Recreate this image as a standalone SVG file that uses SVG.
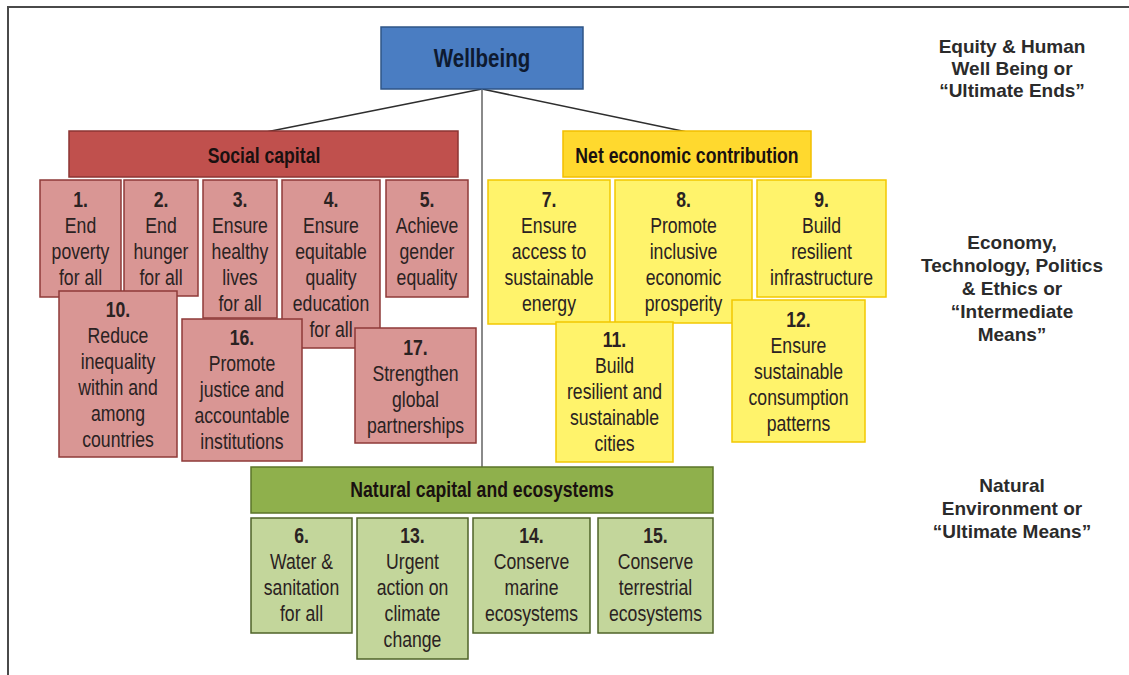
<svg xmlns="http://www.w3.org/2000/svg" width="1129" height="675" viewBox="0 0 1129 675">
<style>
.frame{stroke:#4a4a4a;stroke-width:2;fill:none}
.conn{stroke:#2e2e2e;stroke-width:1.6;fill:none}
.vline{stroke:#8a8a8a;stroke-width:2;fill:none}
.well{fill:#4a7dc2;stroke:#2f5587;stroke-width:1.5}
.soc{fill:#c0504d;stroke:#8c3533;stroke-width:1.5}
.pink{fill:#d99694;stroke:#8e3a38;stroke-width:1.5}
.econ{fill:#ffd92e;stroke:#f2bf00;stroke-width:1.5}
.yel{fill:#fff36b;stroke:#f2c800;stroke-width:1.5}
.nat{fill:#8fb04c;stroke:#5b7429;stroke-width:1.5}
.grn{fill:#c3d69b;stroke:#4f6328;stroke-width:1.5}
.hd{font-family:"Liberation Sans",Arial,sans-serif;font-weight:bold;font-size:21.5px;fill:#1a1010;text-anchor:middle}
.wb{font-family:"Liberation Sans",Arial,sans-serif;font-weight:bold;font-size:25px;fill:#0e1a30;text-anchor:middle}
.tx{font-family:"Liberation Sans",Arial,sans-serif;font-size:21.5px;fill:#2a2222;text-anchor:middle}
.tx .n{font-weight:bold}
.side{font-family:"Liberation Sans",Arial,sans-serif;font-weight:bold;font-size:19px;fill:#2b2b2b;text-anchor:middle}
</style>
<rect x="0" y="0" width="1129" height="675" fill="#ffffff"/>
<path class="frame" d="M8 675 V7 H1129"/>
<g id="connectors">
<line class="conn" x1="482" y1="89" x2="266" y2="132"/>
<line class="conn" x1="482" y1="89" x2="687" y2="132"/>
<line class="vline" x1="482" y1="89" x2="482" y2="467"/>
</g>
<g id="wellbeing">
<rect class="well" x="381" y="27" width="202" height="62"/>
<text class="wb" transform="matrix(0.82 0 0 1 482 0)" x="0" y="67">Wellbeing</text>
</g>
<g id="social-capital">
<rect class="soc" x="69" y="131" width="389" height="46"/>
<text class="hd" transform="matrix(0.82 0 0 1 264 0)" x="0" y="163">Social capital</text>
</g>
<g id="net-economic">
<rect class="econ" x="563" y="131" width="248" height="46"/>
<text class="hd" transform="matrix(0.82 0 0 1 687 0)" x="0" y="163">Net economic contribution</text>
</g>
<g id="natural-capital">
<rect class="nat" x="251" y="467" width="462" height="46"/>
<text class="hd" transform="matrix(0.82 0 0 1 482 0)" x="0" y="497">Natural capital and ecosystems</text>
</g>
<g id="sdg1">
<rect class="pink" x="40" y="180" width="81" height="117"/>
<text class="tx" transform="matrix(0.82 0 0 1 80.5 0)"><tspan class="n" x="0" y="207">1.</tspan><tspan x="0" y="233">End</tspan><tspan x="0" y="259">poverty</tspan><tspan x="0" y="285">for all</tspan></text>
</g>
<g id="sdg2">
<rect class="pink" x="124" y="180" width="74" height="116"/>
<text class="tx" transform="matrix(0.82 0 0 1 161 0)"><tspan class="n" x="0" y="207">2.</tspan><tspan x="0" y="233">End</tspan><tspan x="0" y="259">hunger</tspan><tspan x="0" y="285">for all</tspan></text>
</g>
<g id="sdg3">
<rect class="pink" x="203" y="180" width="74" height="138"/>
<text class="tx" transform="matrix(0.82 0 0 1 240 0)"><tspan class="n" x="0" y="207">3.</tspan><tspan x="0" y="233">Ensure</tspan><tspan x="0" y="259">healthy</tspan><tspan x="0" y="285">lives</tspan><tspan x="0" y="311">for all</tspan></text>
</g>
<g id="sdg4">
<rect class="pink" x="282" y="180" width="98" height="168"/>
<text class="tx" transform="matrix(0.82 0 0 1 331 0)"><tspan class="n" x="0" y="207">4.</tspan><tspan x="0" y="233">Ensure</tspan><tspan x="0" y="259">equitable</tspan><tspan x="0" y="285">quality</tspan><tspan x="0" y="311">education</tspan><tspan x="0" y="337">for all</tspan></text>
</g>
<g id="sdg5">
<rect class="pink" x="386" y="180" width="82" height="117"/>
<text class="tx" transform="matrix(0.82 0 0 1 427 0)"><tspan class="n" x="0" y="207">5.</tspan><tspan x="0" y="233">Achieve</tspan><tspan x="0" y="259">gender</tspan><tspan x="0" y="285">equality</tspan></text>
</g>
<g id="sdg10">
<rect class="pink" x="59" y="291" width="118" height="166"/>
<text class="tx" transform="matrix(0.82 0 0 1 118 0)"><tspan class="n" x="0" y="317">10.</tspan><tspan x="0" y="343">Reduce</tspan><tspan x="0" y="369">inequality</tspan><tspan x="0" y="395">within and</tspan><tspan x="0" y="421">among</tspan><tspan x="0" y="447">countries</tspan></text>
</g>
<g id="sdg16">
<rect class="pink" x="182" y="319" width="120" height="142"/>
<text class="tx" transform="matrix(0.82 0 0 1 242 0)"><tspan class="n" x="0" y="345">16.</tspan><tspan x="0" y="371">Promote</tspan><tspan x="0" y="397">justice and</tspan><tspan x="0" y="423">accountable</tspan><tspan x="0" y="449">institutions</tspan></text>
</g>
<g id="sdg17">
<rect class="pink" x="355" y="328" width="121" height="115"/>
<text class="tx" transform="matrix(0.82 0 0 1 415.5 0)"><tspan class="n" x="0" y="355">17.</tspan><tspan x="0" y="381">Strengthen</tspan><tspan x="0" y="407">global</tspan><tspan x="0" y="433">partnerships</tspan></text>
</g>
<g id="sdg7">
<rect class="yel" x="488" y="180" width="122" height="144"/>
<text class="tx" transform="matrix(0.82 0 0 1 549 0)"><tspan class="n" x="0" y="207">7.</tspan><tspan x="0" y="233">Ensure</tspan><tspan x="0" y="259">access to</tspan><tspan x="0" y="285">sustainable</tspan><tspan x="0" y="311">energy</tspan></text>
</g>
<g id="sdg8">
<rect class="yel" x="615" y="180" width="137" height="143"/>
<text class="tx" transform="matrix(0.82 0 0 1 683.5 0)"><tspan class="n" x="0" y="207">8.</tspan><tspan x="0" y="233">Promote</tspan><tspan x="0" y="259">inclusive</tspan><tspan x="0" y="285">economic</tspan><tspan x="0" y="311">prosperity</tspan></text>
</g>
<g id="sdg9">
<rect class="yel" x="757" y="180" width="129" height="117"/>
<text class="tx" transform="matrix(0.82 0 0 1 821.5 0)"><tspan class="n" x="0" y="207">9.</tspan><tspan x="0" y="233">Build</tspan><tspan x="0" y="259">resilient</tspan><tspan x="0" y="285">infrastructure</tspan></text>
</g>
<g id="sdg11">
<rect class="yel" x="556" y="322" width="117" height="140"/>
<text class="tx" transform="matrix(0.82 0 0 1 614.5 0)"><tspan class="n" x="0" y="347">11.</tspan><tspan x="0" y="373">Build</tspan><tspan x="0" y="399">resilient and</tspan><tspan x="0" y="425">sustainable</tspan><tspan x="0" y="451">cities</tspan></text>
</g>
<g id="sdg12">
<rect class="yel" x="732" y="300" width="133" height="142"/>
<text class="tx" transform="matrix(0.82 0 0 1 798.5 0)"><tspan class="n" x="0" y="327">12.</tspan><tspan x="0" y="353">Ensure</tspan><tspan x="0" y="379">sustainable</tspan><tspan x="0" y="405">consumption</tspan><tspan x="0" y="431">patterns</tspan></text>
</g>
<g id="sdg6">
<rect class="grn" x="251" y="518" width="101" height="115"/>
<text class="tx" transform="matrix(0.82 0 0 1 301.5 0)"><tspan class="n" x="0" y="543">6.</tspan><tspan x="0" y="569">Water &amp;</tspan><tspan x="0" y="595">sanitation</tspan><tspan x="0" y="621">for all</tspan></text>
</g>
<g id="sdg13">
<rect class="grn" x="357" y="518" width="111" height="141"/>
<text class="tx" transform="matrix(0.82 0 0 1 412.5 0)"><tspan class="n" x="0" y="543">13.</tspan><tspan x="0" y="569">Urgent</tspan><tspan x="0" y="595">action on</tspan><tspan x="0" y="621">climate</tspan><tspan x="0" y="647">change</tspan></text>
</g>
<g id="sdg14">
<rect class="grn" x="473" y="518" width="117" height="115"/>
<text class="tx" transform="matrix(0.82 0 0 1 531.5 0)"><tspan class="n" x="0" y="543">14.</tspan><tspan x="0" y="569">Conserve</tspan><tspan x="0" y="595">marine</tspan><tspan x="0" y="621">ecosystems</tspan></text>
</g>
<g id="sdg15">
<rect class="grn" x="598" y="518" width="115" height="115"/>
<text class="tx" transform="matrix(0.82 0 0 1 655.5 0)"><tspan class="n" x="0" y="543">15.</tspan><tspan x="0" y="569">Conserve</tspan><tspan x="0" y="595">terrestrial</tspan><tspan x="0" y="621">ecosystems</tspan></text>
</g>
<g id="level-ends">
<text class="side"><tspan x="1012" y="53">Equity &amp; Human</tspan><tspan x="1012" y="75">Well Being or</tspan><tspan x="1012" y="97">“Ultimate Ends”</tspan></text>
</g>
<g id="level-intermediate">
<text class="side"><tspan x="1012" y="249">Economy,</tspan><tspan x="1012" y="272">Technology, Politics</tspan><tspan x="1012" y="295">&amp; Ethics or</tspan><tspan x="1012" y="318">“Intermediate</tspan><tspan x="1012" y="341">Means”</tspan></text>
</g>
<g id="level-natural">
<text class="side"><tspan x="1012" y="492">Natural</tspan><tspan x="1012" y="515">Environment or</tspan><tspan x="1012" y="538">“Ultimate Means”</tspan></text>
</g>
</svg>
